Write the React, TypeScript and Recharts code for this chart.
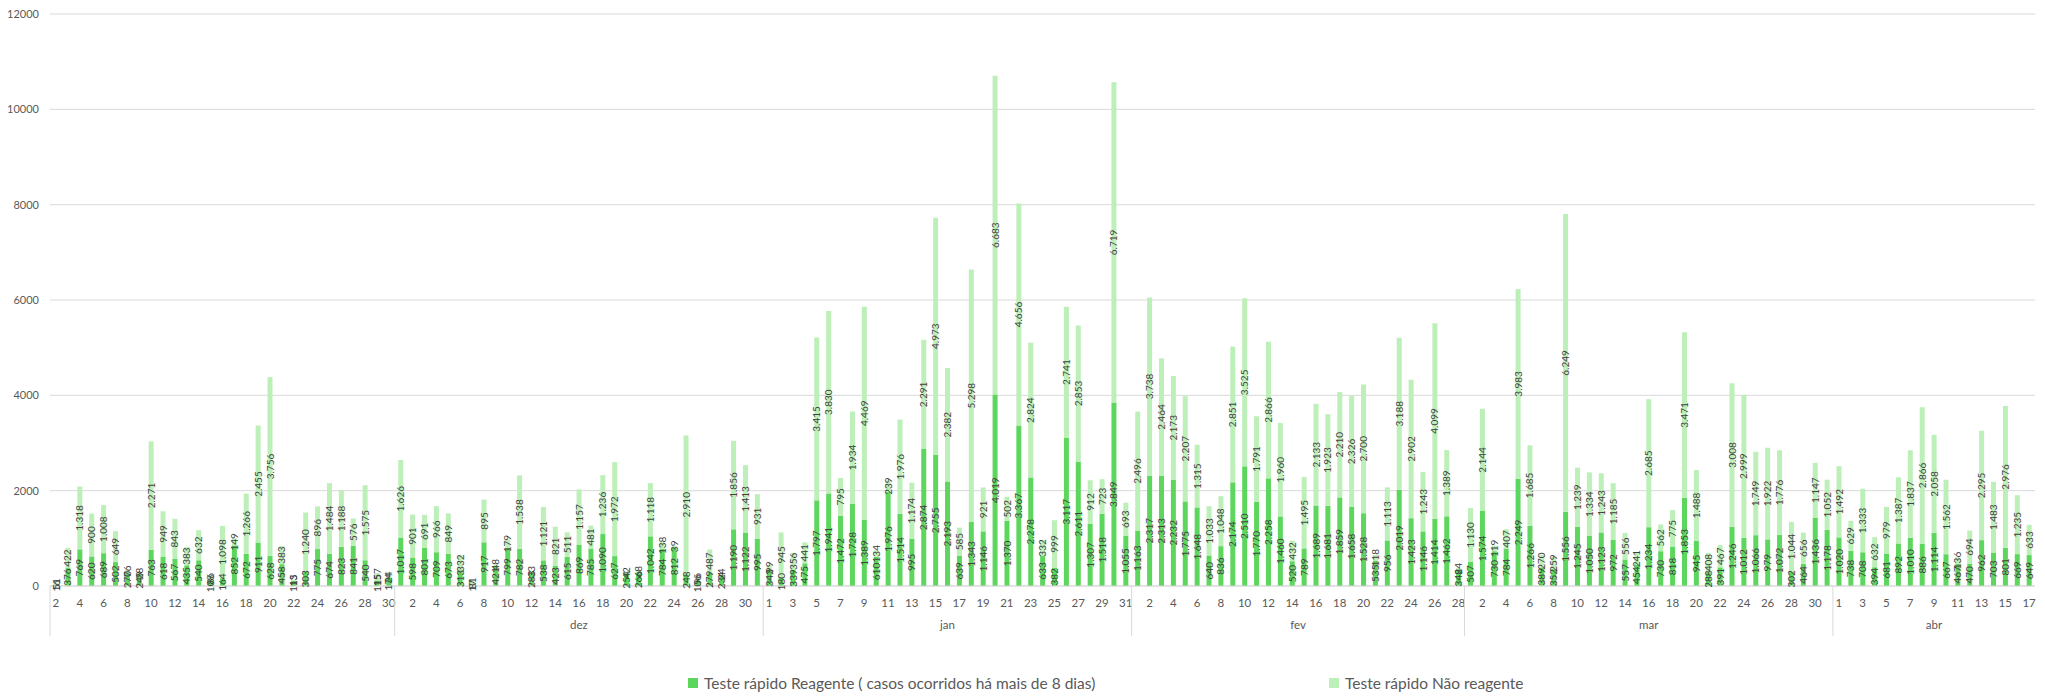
import { BarChart, Bar, XAxis, YAxis, CartesianGrid, LabelList } from "recharts";

// month groups on the category axis (the first group has no name in the source)
const MONTHS = ["", "dez", "jan", "fev", "mar", "abr"];
const FIRST_DAY = [2, 1, 1, 1, 1, 1];

// Teste rápido Reagente (casos ocorridos há mais de 8 dias)
const reagenteNov = [16, 376, 769, 620, 689, 502, 270, 249, 763, 618, 567, 435, 540, 108, 164, 852, 672, 911, 628, 458, 113, 303, 775, 674, 823, 841, 540, 115, 174];
const reagenteDez = [1017, 598, 801, 709, 673, 313, 17, 917, 421, 799, 782, 283, 538, 423, 615, 869, 785, 1090, 627, 254, 266, 1042, 784, 812, 248, 106, 279, 234, 1190, 1122, 995];
const reagenteJan = [342, 180, 339, 475, 1797, 1941, 1472, 1728, 1389, 610, 1976, 1514, 995, 2874, 2755, 2193, 639, 1343, 1146, 4019, 1370, 3367, 2278, 633, 382, 3117, 2611, 1307, 1518, 3849, 1055];
const reagenteFev = [1163, 2317, 2313, 2232, 1775, 1648, 640, 836, 2174, 2510, 1770, 2258, 1460, 520, 789, 1689, 1681, 1859, 1658, 1528, 535, 956, 2019, 1423, 1146, 1414, 1462, 348];
const reagenteMar = [507, 1574, 730, 784, 2249, 1266, 389, 352, 1556, 1245, 1050, 1123, 972, 557, 454, 1234, 730, 818, 1853, 945, 288, 391, 1246, 1012, 1066, 979, 1072, 302, 464, 1436, 1178];
const reagenteAbr = [1020, 738, 708, 394, 681, 892, 1010, 886, 1114, 667, 467, 470, 962, 703, 801, 669, 649];

// Teste rápido Não reagente
const naoNov = [51, 422, 1318, 900, 1008, 649, 76, 28, 2271, 949, 843, 383, 632, 86, 1098, 149, 1266, 2455, 3756, 383, 15, 1240, 896, 1484, 1188, 576, 1575, 157, 24];
const naoDez = [1626, 901, 691, 966, 849, 332, 81, 895, 48, 179, 1538, 33, 1121, 821, 511, 1157, 481, 1236, 1972, 42, 68, 1118, 138, 39, 2910, 96, 487, 24, 1856, 1413, 931];
const naoJan = [99, 945, 356, 441, 3415, 3830, 795, 1934, 4469, 134, 239, 1976, 1174, 2291, 4973, 2382, 585, 5298, 921, 6683, 502, 4656, 2824, 332, 999, 2741, 2853, 912, 723, 6719, 693];
const naoFev = [2496, 3738, 2464, 2173, 2207, 1315, 1033, 1048, 2851, 3525, 1791, 2866, 1960, 432, 1495, 2133, 1923, 2210, 2326, 2700, 118, 1113, 3188, 2902, 1243, 4099, 1389, 24];
const naoMar = [1130, 2144, 119, 407, 3983, 1685, 270, 259, 6249, 1239, 1334, 1243, 1185, 556, 241, 2685, 562, 775, 3471, 1488, 408, 467, 3008, 2999, 1749, 1922, 1776, 1044, 656, 1147, 1052];
const naoAbr = [1492, 629, 1333, 632, 979, 1387, 1837, 2866, 2058, 1562, 136, 694, 2295, 1483, 2976, 1235, 633];

const Y_TICKS = [0, 2000, 4000, 6000, 8000, 10000, 12000];

const reagente = [reagenteNov, reagenteDez, reagenteJan, reagenteFev, reagenteMar, reagenteAbr];
const nao = [naoNov, naoDez, naoJan, naoFev, naoMar, naoAbr];

type Row = {
  key: string;
  day: number;
  month: number;
  pos: number;
  len: number;
  reagente: number;
  nao: number;
};

const data: Row[] = [];
reagente.forEach((vals, m) => {
  vals.forEach((v, j) => {
    data.push({
      key: `${m}-${j}`,
      day: FIRST_DAY[m] + j,
      month: m,
      pos: j,
      len: vals.length,
      reagente: v,
      nao: nao[m][j],
    });
  });
});

const W = 2045;
const H = 700;
const LEFT = 50;
const RIGHT = 10;
const STEP = (W - LEFT - RIGHT) / data.length;

const DARK = "#5cd65c";
const LIGHT = "#bdefb9";
const FONT = "Lato, 'Open Sans', sans-serif";

const fmt = (v: any) => String(v).replace(/\B(?=(\d{3})+(?!\d))/g, ".");

function CategoryTick(props: any) {
  const { x, y, index } = props;
  const row = data[index];
  if (!row) return null;
  return (
    <g>
      {index % 2 === 0 && (
        <text x={x} y={y + 21} textAnchor="middle" fontSize={11.5} fill="#595959" fontFamily={FONT}>
          {row.day}
        </text>
      )}
      {row.pos === 0 && (
        <line x1={x - STEP / 2} x2={x - STEP / 2} y1={y} y2={y + 50} stroke="#d9d9d9" />
      )}
      {row.pos === 0 && MONTHS[row.month] && (
        <text
          x={x + ((row.len - 1) / 2) * STEP}
          y={y + 43}
          textAnchor="middle"
          fontSize={11.5}
          fill="#595959"
          fontFamily={FONT}
        >
          {MONTHS[row.month]}
        </text>
      )}
    </g>
  );
}

function Legend() {
  const item = (color: string, label: string, left: number) => (
    <div style={{ position: "absolute", left, top: 0, display: "flex", alignItems: "center", gap: 6, whiteSpace: "nowrap" }}>
      <span style={{ width: 10, height: 10, background: color, display: "inline-block" }} />
      <span>{label}</span>
    </div>
  );
  return (
    <div
      style={{
        position: "absolute",
        top: 674,
        left: 0,
        width: W,
        height: 22,
        fontFamily: FONT,
        fontSize: 15.5,
        color: "#595959",
      }}
    >
      {item(DARK, "Teste rápido Reagente ( casos ocorridos há mais de 8 dias)", 688)}
      {item(LIGHT, "Teste rápido Não reagente", 1329)}
    </div>
  );
}

export default function App() {
  return (
    <div style={{ position: "relative", width: W, height: H, background: "#fff" }}>
      <style>{`body{margin:0}`}</style>
      <BarChart
        width={W}
        height={H}
        data={data}
        margin={{ top: 14, right: RIGHT, left: 0, bottom: 0 }}
        barCategoryGap="30%"
      >
        <CartesianGrid vertical={false} stroke="#d9d9d9" />
        <XAxis
          dataKey="key"
          interval={0}
          height={114}
          tickLine={false}
          tickSize={0}
          tickMargin={0}
          axisLine={{ stroke: "#d9d9d9" }}
          tick={<CategoryTick />}
        />
        <YAxis
          width={LEFT}
          domain={[0, 12000]}
          ticks={Y_TICKS}
          axisLine={false}
          tickLine={false}
          tickSize={0}
          tickMargin={11}
          tick={{ fontSize: 11, fill: "#595959", fontFamily: FONT }}
        />
        <Bar dataKey="reagente" stackId="a" fill={DARK} isAnimationActive={false}>
          <LabelList
            dataKey="reagente"
            position="center"
            angle={-90}
            formatter={fmt}
            fontSize={10}
            fill="#404040"
            fontFamily={FONT}
          />
        </Bar>
        <Bar dataKey="nao" stackId="a" fill={LIGHT} isAnimationActive={false}>
          <LabelList
            dataKey="nao"
            position="center"
            angle={-90}
            formatter={fmt}
            fontSize={10}
            fill="#404040"
            fontFamily={FONT}
          />
        </Bar>
      </BarChart>
      <Legend />
    </div>
  );
}
